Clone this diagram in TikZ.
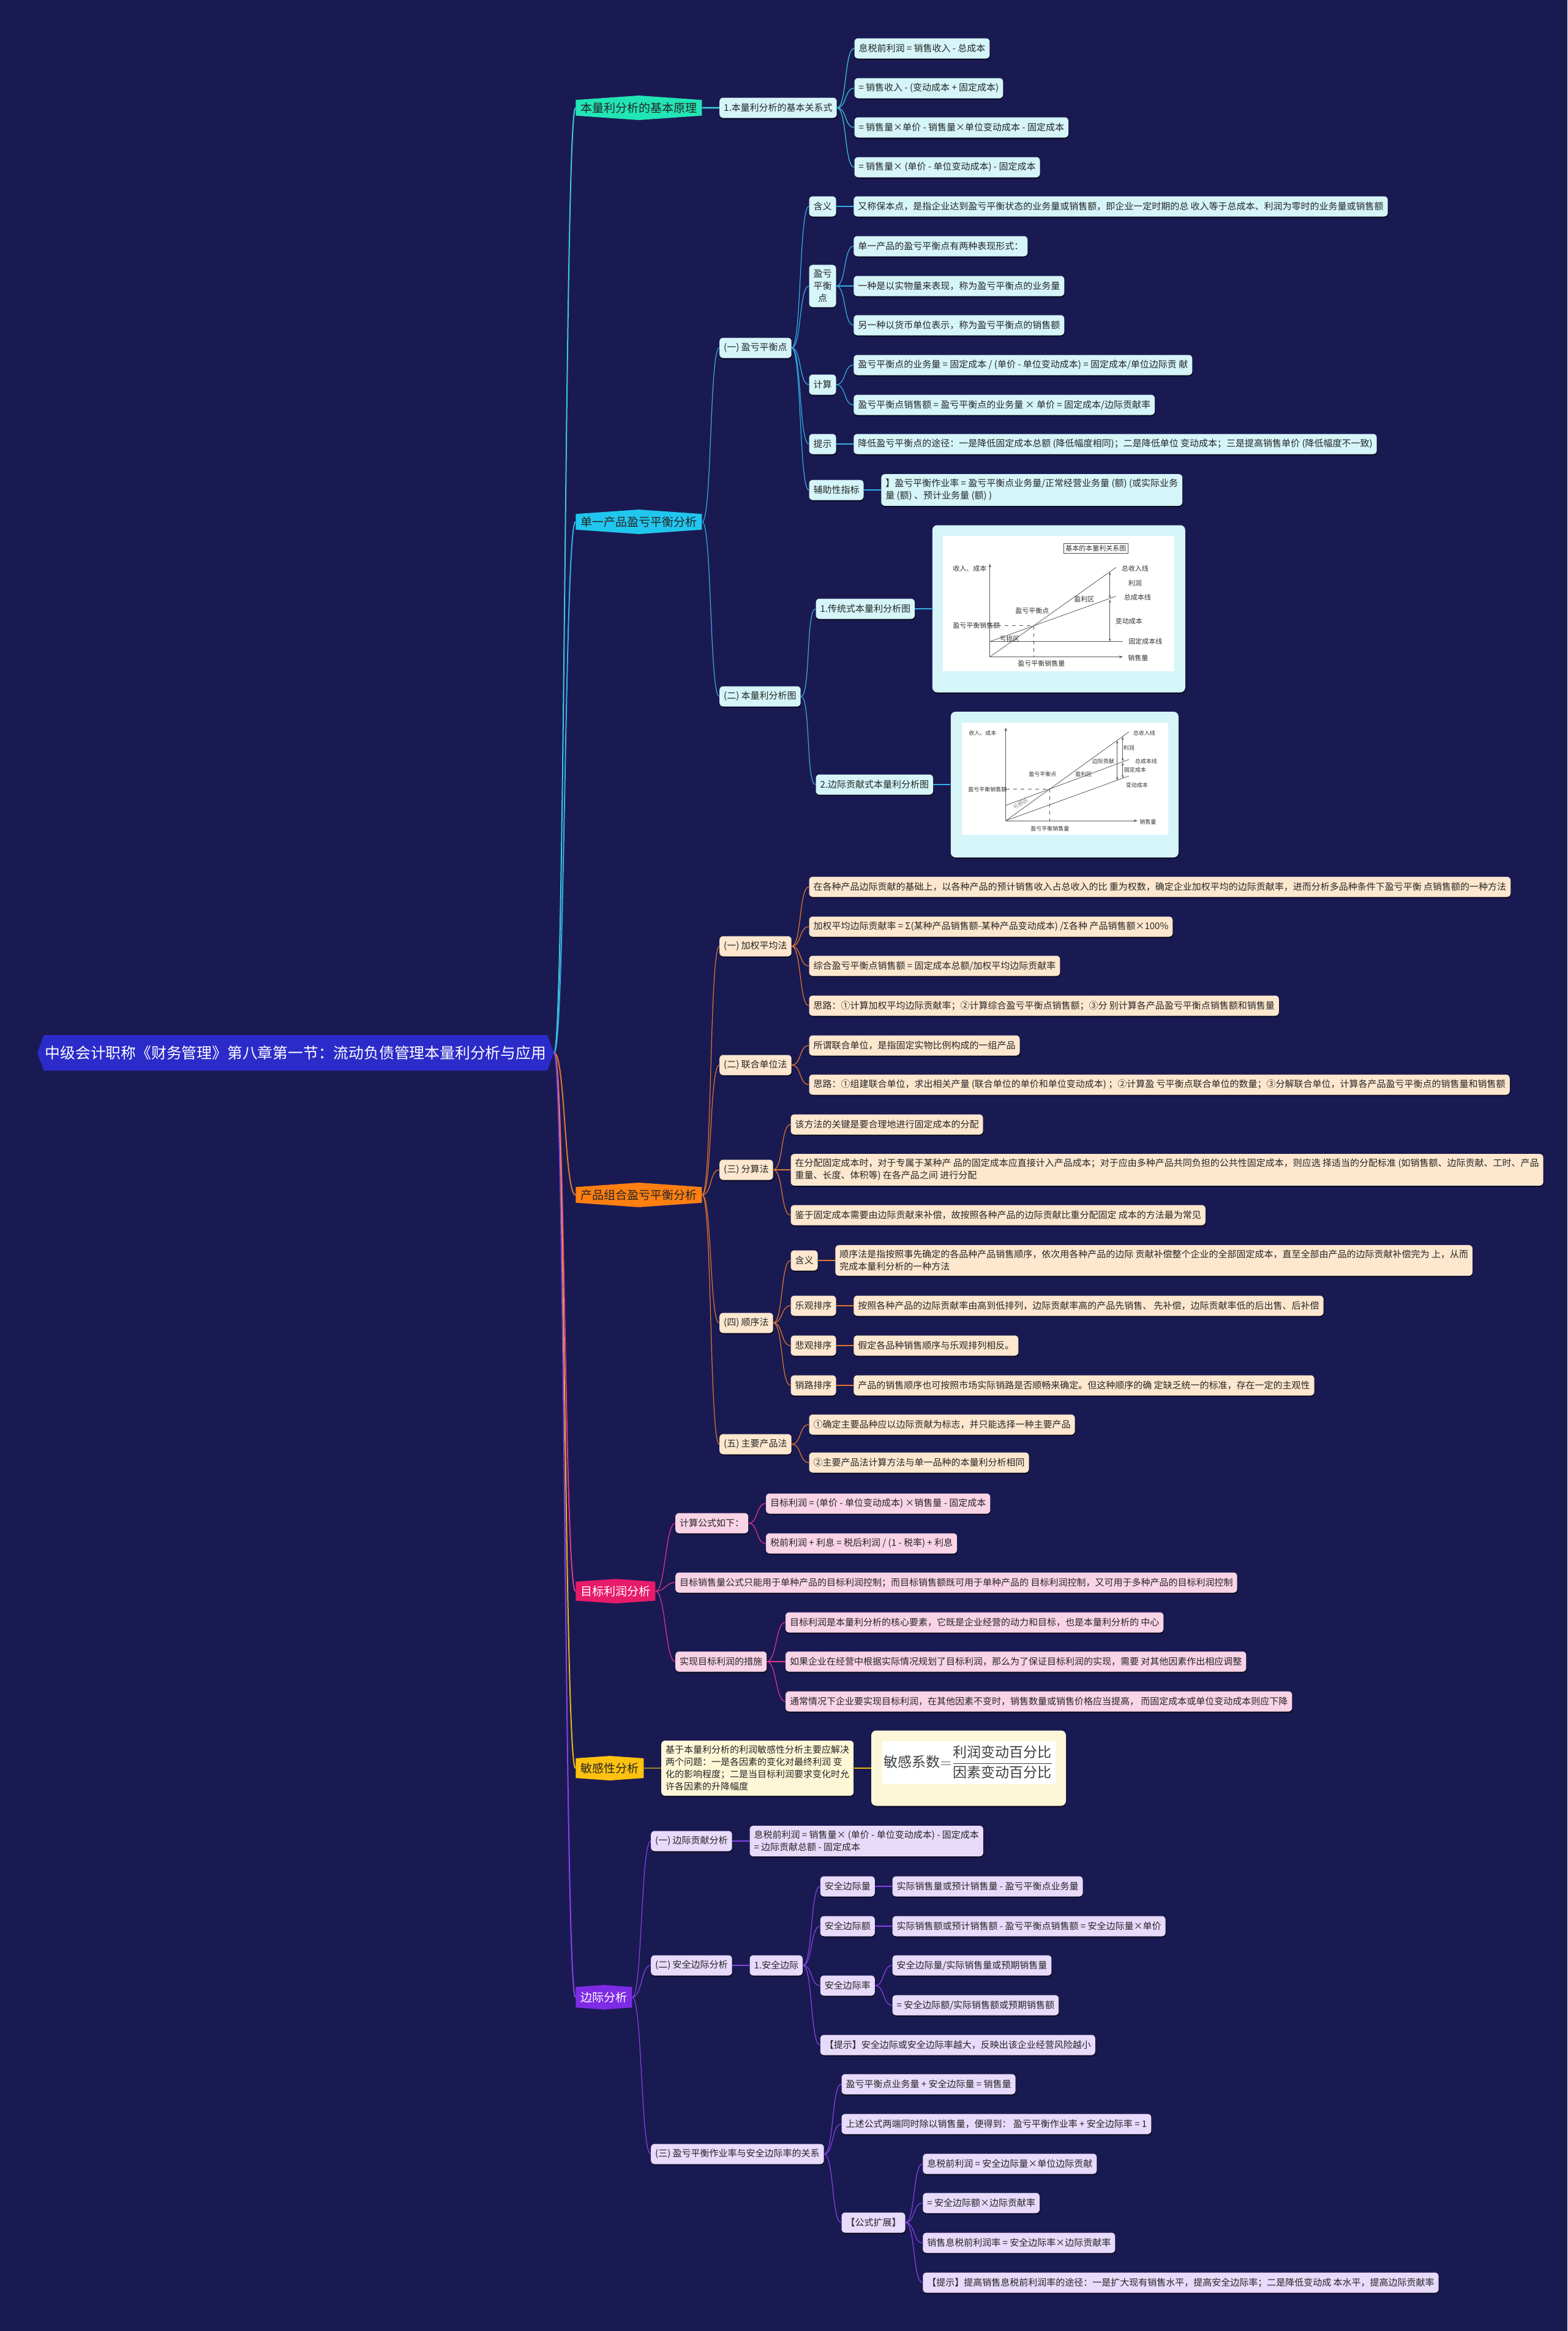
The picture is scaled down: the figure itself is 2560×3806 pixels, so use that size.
\documentclass[tikz,border=0pt]{standalone}
\usepackage{fontspec}
\setmainfont{Noto Sans CJK SC}
\usepackage{amsmath}
\usepackage{tikz}
\usetikzlibrary{shapes.symbols, positioning, shadows, arrows.meta}
\definecolor{navybg}{HTML}{1A1A52}
\definecolor{rootblue}{HTML}{2B2BC9}
\definecolor{tealfill}{HTML}{22E5B5}
\definecolor{tealline}{HTML}{3CC9DA}
\definecolor{cyanfill}{HTML}{20C6EE}
\definecolor{cyanline}{HTML}{34AEE6}
\definecolor{cyanleaf}{HTML}{D5F5F9}
\definecolor{orangefill}{HTML}{FF7F11}
\definecolor{orangeline}{HTML}{E2772B}
\definecolor{orangeleaf}{HTML}{FDE7CF}
\definecolor{pinkfill}{HTML}{E81B6B}
\definecolor{pinkline}{HTML}{E0368C}
\definecolor{pinkleaf}{HTML}{F9D3E6}
\definecolor{goldfill}{HTML}{FFC20F}
\definecolor{goldline}{HTML}{E9B80C}
\definecolor{goldleaf}{HTML}{FEF7D7}
\definecolor{purplefill}{HTML}{7F2BE6}
\definecolor{purpleline}{HTML}{8842E6}
\definecolor{purpleleaf}{HTML}{E7DAFB}

\begin{document}
\begin{tikzpicture}[
    x=0.5pt, y=-0.5pt,
    rootnode/.style={signal, signal to=west and east, signal pointer angle=140,
                     fill=rootblue, text=white, minimum height=29pt, inner xsep=1pt,
                     font=\fontsize{12.4}{14}\selectfont},
    branchnode/.style={signal, signal to=north and south, signal pointer angle=172,
                       fill=#1, text=black!85, minimum height=20pt, inner xsep=4pt,
                       inner ysep=2pt, font=\fontsize{9.5}{11}\selectfont},
    leafnode/.style={rectangle, rounded corners=3pt, fill=#1, text=black!85,
                     inner xsep=3.5pt, inner ysep=4pt, minimum height=16.5pt,
                     align=left, font=\fontsize{7.5}{10}\selectfont,
                     drop shadow={shadow xshift=0.4pt, shadow yshift=-1pt, fill=black, opacity=0.6}},
    picbox/.style={rectangle, rounded corners=4pt, fill=#1, inner sep=0pt,
                   drop shadow={shadow xshift=0.4pt, shadow yshift=-1pt, fill=black, opacity=0.6}},
    trunklink/.style={draw=#1, line width=1pt, out=0, in=180, distance=9pt},
    linkto/.style={draw=#1, line width=0.6pt, out=0, in=180, distance=8pt},
    boldlink/.style={draw=#1, line width=1.4pt},
    chartline/.style={draw=black!65, line width=0.4pt},
  ]
  \useasboundingbox (0,0) rectangle (2560,3806);
  \fill[navybg] (0,0) rectangle (2560,3806);

  % root and main branches
  \node[rootnode, anchor=east] (root) at (905,1719) {中级会计职称《财务管理》第八章第一节：流动负债管理本量利分析与应用};
  \node[branchnode=tealfill, anchor=west] (basic) at (940,176) {本量利分析的基本原理};
  \node[branchnode=cyanfill, anchor=west] (single) at (940,852) {单一产品盈亏平衡分析};
  \node[branchnode=orangefill, anchor=west] (mix) at (940,1951) {产品组合盈亏平衡分析};
  \node[branchnode=pinkfill, text=white, anchor=west] (target) at (940,2598) {目标利润分析};
  \node[branchnode=goldfill, anchor=west] (sens) at (940,2887) {敏感性分析};
  \node[branchnode=purplefill, text=white, anchor=west] (margin) at (940,3261) {边际分析};

  % basic principle
  \node[leafnode=cyanleaf, right=14pt of basic] (relation) {1.本量利分析的基本关系式};
  \node[leafnode=cyanleaf, right=14pt of relation, yshift=48.5pt] (rel1) {息税前利润 = 销售收入 - 总成本};
  \node[leafnode=cyanleaf, right=14pt of relation, yshift=16pt] (rel2) {= 销售收入 - (变动成本 + 固定成本)};
  \node[leafnode=cyanleaf, right=14pt of relation, yshift=-16pt] (rel3) {= 销售量×单价 - 销售量×单位变动成本 - 固定成本};
  \node[leafnode=cyanleaf, right=14pt of relation, yshift=-48.5pt] (rel4) {= 销售量× (单价 - 单位变动成本) - 固定成本};

  % single product
  \node[leafnode=cyanleaf, right=14pt of single, yshift=142pt] (bep) {(一) 盈亏平衡点};
  \node[leafnode=cyanleaf, right=14pt of bep, yshift=115.5pt] (bepmean) {含义};
  \node[leafnode=cyanleaf, right=14pt of bepmean] (bepmeantxt) {又称保本点，是指企业达到盈亏平衡状态的业务量或销售额，即企业一定时期的总 收入等于总成本、利润为零时的业务量或销售额};
  \node[leafnode=cyanleaf, align=center, right=14pt of bep, yshift=50.5pt] (bepform) {盈亏\\平衡\\点};
  \node[leafnode=cyanleaf, right=14pt of bepform, yshift=32.5pt] (bepform1) {单一产品的盈亏平衡点有两种表现形式：};
  \node[leafnode=cyanleaf, right=14pt of bepform] (bepform2) {一种是以实物量来表现，称为盈亏平衡点的业务量};
  \node[leafnode=cyanleaf, right=14pt of bepform, yshift=-32pt] (bepform3) {另一种以货币单位表示，称为盈亏平衡点的销售额};
  \node[leafnode=cyanleaf, right=14pt of bep, yshift=-30pt] (bepcalc) {计算};
  \node[leafnode=cyanleaf, right=14pt of bepcalc, yshift=16pt] (bepcalc1) {盈亏平衡点的业务量 = 固定成本 / (单价 - 单位变动成本) = 固定成本/单位边际贡 献};
  \node[leafnode=cyanleaf, right=14pt of bepcalc, yshift=-16.5pt] (bepcalc2) {盈亏平衡点销售额 = 盈亏平衡点的业务量 × 单价 = 固定成本/边际贡献率};
  \node[leafnode=cyanleaf, right=14pt of bep, yshift=-78.5pt] (beptip) {提示};
  \node[leafnode=cyanleaf, right=14pt of beptip] (beptiptxt) {降低盈亏平衡点的途径：一是降低固定成本总额 (降低幅度相同)；二是降低单位 变动成本；三是提高销售单价 (降低幅度不一致)};
  \node[leafnode=cyanleaf, right=14pt of bep, yshift=-116pt] (bepaux) {辅助性指标};
  \node[leafnode=cyanleaf, right=14pt of bepaux] (bepauxtxt) {】盈亏平衡作业率 = 盈亏平衡点业务量/正常经营业务量 (额) (或实际业务\\量 (额) 、预计业务量 (额) )};
  \node[leafnode=cyanleaf, right=14pt of single, yshift=-142.5pt] (cvp) {(二) 本量利分析图};
  \node[leafnode=cyanleaf, right=12pt of cvp, yshift=71.5pt] (cvpclassic) {1.传统式本量利分析图};
  \node[picbox=cyanleaf, minimum width=206.5pt, minimum height=136.5pt, right=14pt of cvpclassic] (cvpchart) {};
  \node[leafnode=cyanleaf, right=12pt of cvp, yshift=-72pt] (cvpmargin) {2.边际贡献式本量利分析图};
  \node[picbox=cyanleaf, minimum width=186pt, minimum height=119pt, right=14pt of cvpmargin] (mcchart) {};

  % traditional chart
  \begin{scope}[shift={(cvpchart.center)}, font=\fontsize{5.5}{6}\selectfont, text=black!80]
    \fill[white] (-189.5,-119.5) rectangle (188.5,101.5);
    \node[draw=black!70, inner sep=1.5pt] (cvptitle) at (60.5,-99) {基本的本量利关系图};
    \draw[chartline, -{Stealth[length=3pt]}] (-112.5,78.5) -- (-112.5,-73.5);
    \draw[chartline, -{Stealth[length=3pt]}] (-112.5,78.5) -- (104.5,78.5);
    \draw[chartline] (-112.5,78.5) -- (93.5,-67.5);
    \draw[chartline] (-112.5,53.5) -- (93.5,-20.5);
    \draw[chartline] (-112.5,53.5) -- (104.5,53.5);
    \draw[chartline, dashed] (-112.5,27.8) -- (-41,27.8) -- (-41,78.5);
    \draw[chartline, {Stealth[length=2.5pt]}-{Stealth[length=2.5pt]}] (83.5,-60) -- (83.5,-17);
    \draw[chartline, {Stealth[length=2.5pt]}-{Stealth[length=2.5pt]}] (83.5,-15) -- (83.5,53.5);
    \node at (-145.5,-65.5) {收入、成本};
    \node at (124.5,-65.5) {总收入线};
    \node at (124.5,-41.5) {利润};
    \node at (128.5,-18.5) {总成本线};
    \node at (41.5,-15.5) {盈利区};
    \node at (-43.5,3.5) {盈亏平衡点};
    \node at (114.5,20.5) {变动成本};
    \node at (-134.5,27.5) {盈亏平衡销售额};
    \node at (-80.5,49.5) {亏损区};
    \node at (141.5,53.5) {固定成本线};
    \node at (129.5,80.5) {销售量};
    \node at (-28.5,89.5) {盈亏平衡销售量};
  \end{scope}

  % contribution margin chart
  \begin{scope}[shift={(mcchart.center)}, font=\fontsize{4.5}{5}\selectfont, text=black!80]
    \fill[white] (-168,-101) rectangle (169,82);
    \draw[chartline, -{Stealth[length=3pt]}] (-96,59) -- (-96,-93);
    \draw[chartline, -{Stealth[length=3pt]}] (-96,59) -- (119,59);
    \draw[chartline] (-96,59) -- (105,-86);
    \draw[chartline] (-96,34) -- (105,-41);
    \draw[chartline] (-96,59) -- (105,-14);
    \draw[chartline, dashed] (-96,7.2) -- (-24.2,7.2) -- (-24.2,59);
    \draw[chartline, {Stealth[length=2.5pt]}-{Stealth[length=2.5pt]}] (86,-72) -- (86,-7);
    \draw[chartline, {Stealth[length=2.5pt]}-{Stealth[length=2.5pt]}] (95,-78) -- (95,-38);
    \draw[chartline, {Stealth[length=2.5pt]}-{Stealth[length=2.5pt]}] (95,-36) -- (95,-10.5);
    \node at (-134,-84) {收入、成本};
    \node at (130,-84) {总收入线};
    \node at (105,-60) {利润};
    \node at (133,-38) {总成本线};
    \node at (63,-38) {边际贡献};
    \node at (115,-24) {固定成本};
    \node at (31,-17) {盈利区};
    \node at (-36,-17) {盈亏平衡点};
    \node at (118,1) {变动成本};
    \node at (-126,8) {盈亏平衡销售额};
    \node[rotate=35, text=black!50] at (-72,31) {亏损区};
    \node at (136,61) {销售量};
    \node at (-24,72) {盈亏平衡销售量};
  \end{scope}

  % product mix
  \node[leafnode=orangeleaf, right=14pt of mix, yshift=203pt] (weighted) {(一) 加权平均法};
  \node[leafnode=orangeleaf, right=14pt of weighted, yshift=48.5pt] (weighted1) {在各种产品边际贡献的基础上，以各种产品的预计销售收入占总收入的比 重为权数，确定企业加权平均的边际贡献率，进而分析多品种条件下盈亏平衡 点销售额的一种方法};
  \node[leafnode=orangeleaf, right=14pt of weighted, yshift=16pt] (weighted2) {加权平均边际贡献率 = Σ(某种产品销售额-某种产品变动成本) /Σ各种 产品销售额×100\%};
  \node[leafnode=orangeleaf, right=14pt of weighted, yshift=-16pt] (weighted3) {综合盈亏平衡点销售额 = 固定成本总额/加权平均边际贡献率};
  \node[leafnode=orangeleaf, right=14pt of weighted, yshift=-48.5pt] (weighted4) {思路：①计算加权平均边际贡献率；②计算综合盈亏平衡点销售额；③分 别计算各产品盈亏平衡点销售额和销售量};
  \node[leafnode=orangeleaf, right=14pt of mix, yshift=106pt] (joint) {(二) 联合单位法};
  \node[leafnode=orangeleaf, right=14pt of joint, yshift=16pt] (joint1) {所谓联合单位，是指固定实物比例构成的一组产品};
  \node[leafnode=orangeleaf, right=14pt of joint, yshift=-16pt] (joint2) {思路：①组建联合单位，求出相关产量 (联合单位的单价和单位变动成本) ；②计算盈 亏平衡点联合单位的数量；③分解联合单位，计算各产品盈亏平衡点的销售量和销售额};
  \node[leafnode=orangeleaf, right=14pt of mix, yshift=20.5pt] (split) {(三) 分算法};
  \node[leafnode=orangeleaf, right=14pt of split, yshift=37pt] (split1) {该方法的关键是要合理地进行固定成本的分配};
  \node[leafnode=orangeleaf, right=14pt of split] (split2) {在分配固定成本时，对于专属于某种产 品的固定成本应直接计入产品成本；对于应由多种产品共同负担的公共性固定成本，则应选 择适当的分配标准 (如销售额、边际贡献、工时、产品\\重量、长度、体积等) 在各产品之间 进行分配};
  \node[leafnode=orangeleaf, right=14pt of split, yshift=-37pt] (split3) {鉴于固定成本需要由边际贡献来补偿，故按照各种产品的边际贡献比重分配固定 成本的方法最为常见};
  \node[leafnode=orangeleaf, right=14pt of mix, yshift=-104.5pt] (order) {(四) 顺序法};
  \node[leafnode=orangeleaf, right=14pt of order, yshift=51pt] (ordermean) {含义};
  \node[leafnode=orangeleaf, right=14pt of ordermean] (ordermeantxt) {顺序法是指按照事先确定的各品种产品销售顺序，依次用各种产品的边际 贡献补偿整个企业的全部固定成本，直至全部由产品的边际贡献补偿完为 上，从而\\完成本量利分析的一种方法};
  \node[leafnode=orangeleaf, right=14pt of order, yshift=14pt] (optimist) {乐观排序};
  \node[leafnode=orangeleaf, right=14pt of optimist] (optimisttxt) {按照各种产品的边际贡献率由高到低排列，边际贡献率高的产品先销售、 先补偿，边际贡献率低的后出售、后补偿};
  \node[leafnode=orangeleaf, right=14pt of order, yshift=-18.5pt] (pessimist) {悲观排序};
  \node[leafnode=orangeleaf, right=14pt of pessimist] (pessimisttxt) {假定各品种销售顺序与乐观排列相反。};
  \node[leafnode=orangeleaf, right=14pt of order, yshift=-51pt] (market) {销路排序};
  \node[leafnode=orangeleaf, right=14pt of market] (markettxt) {产品的销售顺序也可按照市场实际销路是否顺畅来确定。但这种顺序的确 定缺乏统一的标准，存在一定的主观性};
  \node[leafnode=orangeleaf, right=14pt of mix, yshift=-203.5pt] (mainprod) {(五) 主要产品法};
  \node[leafnode=orangeleaf, right=14pt of mainprod, yshift=16pt] (mainprod1) {①确定主要品种应以边际贡献为标志，并只能选择一种主要产品};
  \node[leafnode=orangeleaf, right=14pt of mainprod, yshift=-15pt] (mainprod2) {②主要产品法计算方法与单一品种的本量利分析相同};

  % target profit
  \node[leafnode=pinkleaf, right=16pt of target, yshift=55.5pt] (formula) {计算公式如下：};
  \node[leafnode=pinkleaf, right=14pt of formula, yshift=16pt] (formula1) {目标利润 = (单价 - 单位变动成本) ×销售量 - 固定成本};
  \node[leafnode=pinkleaf, right=14pt of formula, yshift=-16.5pt] (formula2) {税前利润 + 利息 = 税后利润 / (1 - 税率) + 利息};
  \node[leafnode=pinkleaf, right=16pt of target, yshift=7pt] (salesgoal) {目标销售量公式只能用于单种产品的目标利润控制；而目标销售额既可用于单种产品的 目标利润控制，又可用于多种产品的目标利润控制};
  \node[leafnode=pinkleaf, right=16pt of target, yshift=-57.5pt] (measure) {实现目标利润的措施};
  \node[leafnode=pinkleaf, right=15pt of measure, yshift=32pt] (measure1) {目标利润是本量利分析的核心要素，它既是企业经营的动力和目标，也是本量利分析的 中心};
  \node[leafnode=pinkleaf, right=15pt of measure] (measure2) {如果企业在经营中根据实际情况规划了目标利润，那么为了保证目标利润的实现，需要 对其他因素作出相应调整};
  \node[leafnode=pinkleaf, right=15pt of measure, yshift=-32.5pt] (measure3) {通常情况下企业要实现目标利润，在其他因素不变时，销售数量或销售价格应当提高， 而固定成本或单位变动成本则应下降};

  % sensitivity
  \node[leafnode=goldleaf, right=14pt of sens] (senstxt) {基于本量利分析的利润敏感性分析主要应解决\\两个问题：一是各因素的变化对最终利润 变\\化的影响程度；二是当目标利润要求变化时允\\许各因素的升降幅度};
  \node[picbox=goldleaf, minimum width=159pt, minimum height=61.5pt, right=14pt of senstxt] (sensbox) {};
  \begin{scope}[shift={(sensbox.center)}]
    \fill[white] (-141,-44.5) rectangle (142,25.5);
    \node[text=black!75, font=\fontsize{11.5}{14}\selectfont] (sensformula) at (0,-10)
      {$\text{敏感系数}{=}\dfrac{\text{利润变动百分比}}{\text{因素变动百分比}}$};
  \end{scope}

  % margin analysis
  \node[leafnode=purpleleaf, right=15pt of margin, yshift=127.5pt] (contrib) {(一) 边际贡献分析};
  \node[leafnode=purpleleaf, right=14pt of contrib] (contribtxt) {息税前利润 = 销售量× (单价 - 单位变动成本) - 固定成本\\= 边际贡献总额 - 固定成本};
  \node[leafnode=purpleleaf, right=15pt of margin, yshift=26pt] (safety) {(二) 安全边际分析};
  \node[leafnode=purpleleaf, right=14pt of safety] (safetyone) {1.安全边际};
  \node[leafnode=purpleleaf, right=14pt of safetyone, yshift=64.5pt] (safeqty) {安全边际量};
  \node[leafnode=purpleleaf, right=14pt of safeqty] (safeqtytxt) {实际销售量或预计销售量 - 盈亏平衡点业务量};
  \node[leafnode=purpleleaf, right=14pt of safetyone, yshift=32pt] (safeamt) {安全边际额};
  \node[leafnode=purpleleaf, right=14pt of safeamt] (safeamttxt) {实际销售额或预计销售额 - 盈亏平衡点销售额 = 安全边际量×单价};
  \node[leafnode=purpleleaf, right=14pt of safetyone, yshift=-16.5pt] (saferate) {安全边际率};
  \node[leafnode=purpleleaf, right=14pt of saferate, yshift=16.5pt] (saferate1) {安全边际量/实际销售量或预期销售量};
  \node[leafnode=purpleleaf, right=14pt of saferate, yshift=-16pt] (saferate2) {= 安全边际额/实际销售额或预期销售额};
  \node[leafnode=purpleleaf, right=14pt of safetyone, yshift=-65pt] (safetip) {【提示】安全边际或安全边际率越大，反映出该企业经营风险越小};
  \node[leafnode=purpleleaf, right=15pt of margin, yshift=-128pt] (relation3) {(三) 盈亏平衡作业率与安全边际率的关系};
  \node[leafnode=purpleleaf, right=14pt of relation3, yshift=57pt] (relation31) {盈亏平衡点业务量 + 安全边际量 = 销售量};
  \node[leafnode=purpleleaf, right=14pt of relation3, yshift=24.5pt] (relation32) {上述公式两端同时除以销售量，便得到： 盈亏平衡作业率 + 安全边际率 = 1};
  \node[leafnode=purpleleaf, right=14pt of relation3, yshift=-56pt] (extend) {【公式扩展】};
  \node[leafnode=purpleleaf, right=14pt of extend, yshift=48pt] (extend1) {息税前利润 =  安全边际量×单位边际贡献};
  \node[leafnode=purpleleaf, right=14pt of extend, yshift=16pt] (extend2) {= 安全边际额×边际贡献率};
  \node[leafnode=purpleleaf, right=14pt of extend, yshift=-16.5pt] (extend3) {销售息税前利润率 = 安全边际率×边际贡献率};
  \node[leafnode=purpleleaf, right=14pt of extend, yshift=-49pt] (extend4) {【提示】提高销售息税前利润率的途径：一是扩大现有销售水平，提高安全边际率；二是降低变动成 本水平，提高边际贡献率};

  % connectors
  \draw[trunklink=tealline] (root.east) to (basic.west);
  \draw[trunklink=cyanline] (root.east) to (single.west);
  \draw[trunklink=orangeline] (root.east) to (mix.west);
  \draw[trunklink=pinkline] (root.east) to (target.west);
  \draw[trunklink=goldline] (root.east) to (sens.west);
  \draw[trunklink=purpleline] (root.east) to (margin.west);

  \draw[boldlink=tealline] (basic) -- (relation);
  \foreach \k in {rel1, rel2, rel3, rel4}
    \draw[linkto=tealline] (relation.east) to (\k.west);

  \foreach \k in {bep, cvp}
    \draw[linkto=cyanline] (single.east) to (\k.west);
  \foreach \k in {bepmean, bepform, bepcalc, beptip, bepaux}
    \draw[linkto=cyanline] (bep.east) to (\k.west);
  \foreach \k in {bepform1, bepform2, bepform3}
    \draw[linkto=cyanline] (bepform.east) to (\k.west);
  \foreach \k in {bepcalc1, bepcalc2}
    \draw[linkto=cyanline] (bepcalc.east) to (\k.west);
  \draw[boldlink=cyanline] (bepmean) -- (bepmeantxt);
  \draw[boldlink=cyanline] (beptip) -- (beptiptxt);
  \draw[boldlink=cyanline] (bepaux) -- (bepauxtxt);
  \foreach \k in {cvpclassic, cvpmargin}
    \draw[linkto=cyanline] (cvp.east) to (\k.west);
  \draw[linkto=cyanline] (cvpclassic) -- (cvpchart);
  \draw[linkto=cyanline] (cvpmargin) -- (mcchart);

  \foreach \k in {weighted, joint, split, order, mainprod}
    \draw[linkto=orangeline] (mix.east) to (\k.west);
  \foreach \k in {weighted1, weighted2, weighted3, weighted4}
    \draw[linkto=orangeline] (weighted.east) to (\k.west);
  \foreach \k in {joint1, joint2}
    \draw[linkto=orangeline] (joint.east) to (\k.west);
  \foreach \k in {split1, split2, split3}
    \draw[linkto=orangeline] (split.east) to (\k.west);
  \foreach \k in {ordermean, optimist, pessimist, market}
    \draw[linkto=orangeline] (order.east) to (\k.west);
  \draw[boldlink=orangeline] (ordermean) -- (ordermeantxt);
  \draw[boldlink=orangeline] (optimist) -- (optimisttxt);
  \draw[boldlink=orangeline] (pessimist) -- (pessimisttxt);
  \draw[boldlink=orangeline] (market) -- (markettxt);
  \foreach \k in {mainprod1, mainprod2}
    \draw[linkto=orangeline] (mainprod.east) to (\k.west);

  \foreach \k in {formula, salesgoal, measure}
    \draw[linkto=pinkline] (target.east) to (\k.west);
  \foreach \k in {formula1, formula2}
    \draw[linkto=pinkline] (formula.east) to (\k.west);
  \foreach \k in {measure1, measure2, measure3}
    \draw[linkto=pinkline] (measure.east) to (\k.west);

  \draw[linkto=goldline] (sens) -- (senstxt);
  \draw[linkto=goldline] (senstxt) -- (sensbox);

  \foreach \k in {contrib, safety, relation3}
    \draw[linkto=purpleline] (margin.east) to (\k.west);
  \draw[boldlink=purpleline] (contrib) -- (contribtxt);
  \draw[boldlink=purpleline] (safety) -- (safetyone);
  \foreach \k in {safeqty, safeamt, saferate, safetip}
    \draw[linkto=purpleline] (safetyone.east) to (\k.west);
  \draw[boldlink=purpleline] (safeqty) -- (safeqtytxt);
  \draw[boldlink=purpleline] (safeamt) -- (safeamttxt);
  \foreach \k in {saferate1, saferate2}
    \draw[linkto=purpleline] (saferate.east) to (\k.west);
  \foreach \k in {relation31, relation32, extend}
    \draw[linkto=purpleline] (relation3.east) to (\k.west);
  \foreach \k in {extend1, extend2, extend3, extend4}
    \draw[linkto=purpleline] (extend.east) to (\k.west);
\end{tikzpicture}
\end{document}
